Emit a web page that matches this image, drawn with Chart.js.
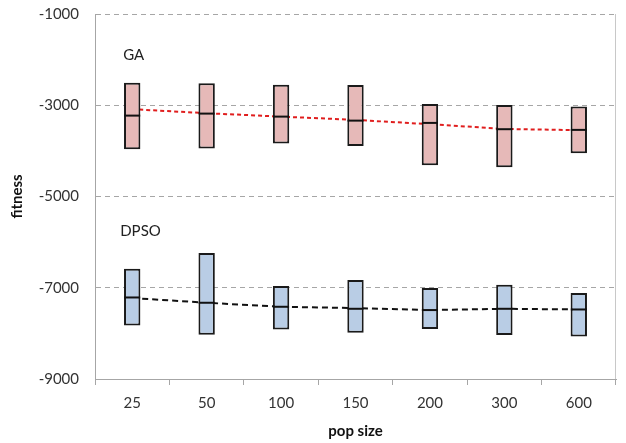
<!DOCTYPE html>
<html>
<head>
<meta charset="utf-8">
<script src="https://cdn.jsdelivr.net/npm/chart.js@4.4.1/dist/chart.umd.min.js"></script>
<style>
    html, body { margin: 0; padding: 0; background: #fff; }
    #wrap { width: 626px; height: 443px; }
</style>
</head>
<body>
<div id="wrap"><canvas id="chart" width="626" height="443"></canvas></div>
<script>
// Data
const popSizes = ['25', '50', '100', '150', '200', '300', '600'];

const gaLow    = [-3963, -3950, -3840, -3891, -4313, -4357, -4051];
const gaHigh   = [-2505, -2518, -2548, -2555, -2971, -2993, -3030];
const gaMedian = [-3227, -3183, -3249, -3337, -3387, -3525, -3540];
const gaTrend  = [-3087, -3175, -3249, -3321, -3416, -3519, -3547];

const psoLow    = [-7826, -8030, -7914, -7986, -7905, -8036, -8067];
const psoHigh   = [-6585, -6241, -6963, -6832, -7007, -6935, -7117];
const psoMedian = [-7213, -7329, -7417, -7461, -7489, -7461, -7476];
const psoTrend  = [-7226, -7329, -7417, -7445, -7489, -7461, -7476];

const yTicks = [-9000, -7000, -5000, -3000, -1000];

// Series labels written inside the plot
const seriesLabels = [
    { text: 'GA', value: -1900, dx: -9 },
    { text: 'DPSO', value: -5750, dx: -12 }
];

const FONT = 'Lato, "Open Sans", sans-serif';
const TEXT = '#333';

// Draws the series names and the light right border of the plot
const extrasPlugin = {
    id: 'extras',
    beforeDatasetsDraw(chart) {
        const { ctx, chartArea, scales } = chart;
        ctx.save();
        ctx.strokeStyle = '#c8c8c8';
        ctx.lineWidth = 1;
        ctx.beginPath();
        ctx.moveTo(chartArea.right - 0.5, chartArea.top);
        ctx.lineTo(chartArea.right - 0.5, chartArea.bottom);
        ctx.stroke();

        ctx.fillStyle = '#222';
        ctx.font = '15px ' + FONT;
        ctx.textAlign = 'left';
        ctx.textBaseline = 'middle';
        seriesLabels.forEach(l => {
            ctx.fillText(l.text, scales.x.getPixelForValue(0) + l.dx, scales.y.getPixelForValue(l.value));
        });
        ctx.restore();
    }
};

const toRange = (lo, hi) => lo.map((v, i) => [v, hi[i]]);

new Chart(document.getElementById('chart'), {
    data: {
        labels: popSizes,
        datasets: [
            {
                type: 'line',
                label: 'GA median',
                data: gaMedian,
                showLine: false,
                pointStyle: 'line',
                pointRadius: 8,
                pointBorderWidth: 2,
                pointBorderColor: '#111',
                order: 0
            },
            {
                type: 'line',
                label: 'DPSO median',
                data: psoMedian,
                showLine: false,
                pointStyle: 'line',
                pointRadius: 8,
                pointBorderWidth: 2,
                pointBorderColor: '#111',
                order: 0
            },
            {
                type: 'bar',
                label: 'GA',
                data: toRange(gaLow, gaHigh),
                backgroundColor: '#e6b9b8',
                borderColor: '#1a1a1a',
                borderWidth: 2,
                borderSkipped: false,
                grouped: false,
                barPercentage: 0.22,
                categoryPercentage: 1,
                order: 1
            },
            {
                type: 'bar',
                label: 'DPSO',
                data: toRange(psoLow, psoHigh),
                backgroundColor: '#b9cde5',
                borderColor: '#1a1a1a',
                borderWidth: 2,
                borderSkipped: false,
                grouped: false,
                barPercentage: 0.22,
                categoryPercentage: 1,
                order: 1
            },
            {
                type: 'line',
                label: 'GA trend',
                data: gaTrend,
                borderColor: '#e01e1e',
                borderWidth: 2,
                borderDash: [4, 3],
                pointRadius: 0,
                tension: 0,
                order: 2
            },
            {
                type: 'line',
                label: 'DPSO trend',
                data: psoTrend,
                borderColor: '#111',
                borderWidth: 2,
                borderDash: [6, 4],
                pointRadius: 0,
                tension: 0,
                order: 2
            }
        ]
    },
    options: {
        responsive: false,
        animation: false,
        layout: { padding: { top: 14, right: 8, bottom: 0, left: 8 } },
        plugins: {
            legend: { display: false },
            tooltip: { enabled: false }
        },
        scales: {
            x: {
                offset: true,
                grid: {
                    offset: true,
                    drawOnChartArea: false,
                    drawTicks: true,
                    tickLength: 6,
                    color: '#a6a6a6'
                },
                border: { color: '#a6a6a6', width: 1 },
                ticks: { color: TEXT, font: { family: FONT, size: 15 }, padding: 9 },
                title: {
                    display: true,
                    text: 'pop size',
                    color: '#111',
                    font: { family: FONT, size: 15, weight: 'bold' },
                    padding: { top: 2, bottom: 3 }
                },
                afterFit(scale) { scale.height = 64; }
            },
            y: {
                min: -9000,
                max: -1000,
                afterBuildTicks(scale) {
                    scale.ticks = yTicks.map(v => ({ value: v }));
                },
                grid: {
                    drawTicks: true,
                    tickLength: 13,
                    tickColor: 'rgba(0,0,0,0)',
                    color: ctx => ctx.tick && ctx.tick.value === -9000 ? 'rgba(0,0,0,0)' : '#a6a6a6'
                },
                border: { color: '#a6a6a6', width: 1, dash: [5, 4] },
                ticks: {
                    color: TEXT,
                    font: { family: FONT, size: 15 },
                    padding: 3,
                    callback: v => String(v)
                },
                title: {
                    display: true,
                    text: 'fitness',
                    color: '#111',
                    font: { family: FONT, size: 15, weight: 'bold' },
                    padding: { top: 0, bottom: 0 }
                },
                afterFit(scale) { scale.width = 87; }
            }
        }
    },
    plugins: [extrasPlugin]
});
</script>
</body>
</html>
